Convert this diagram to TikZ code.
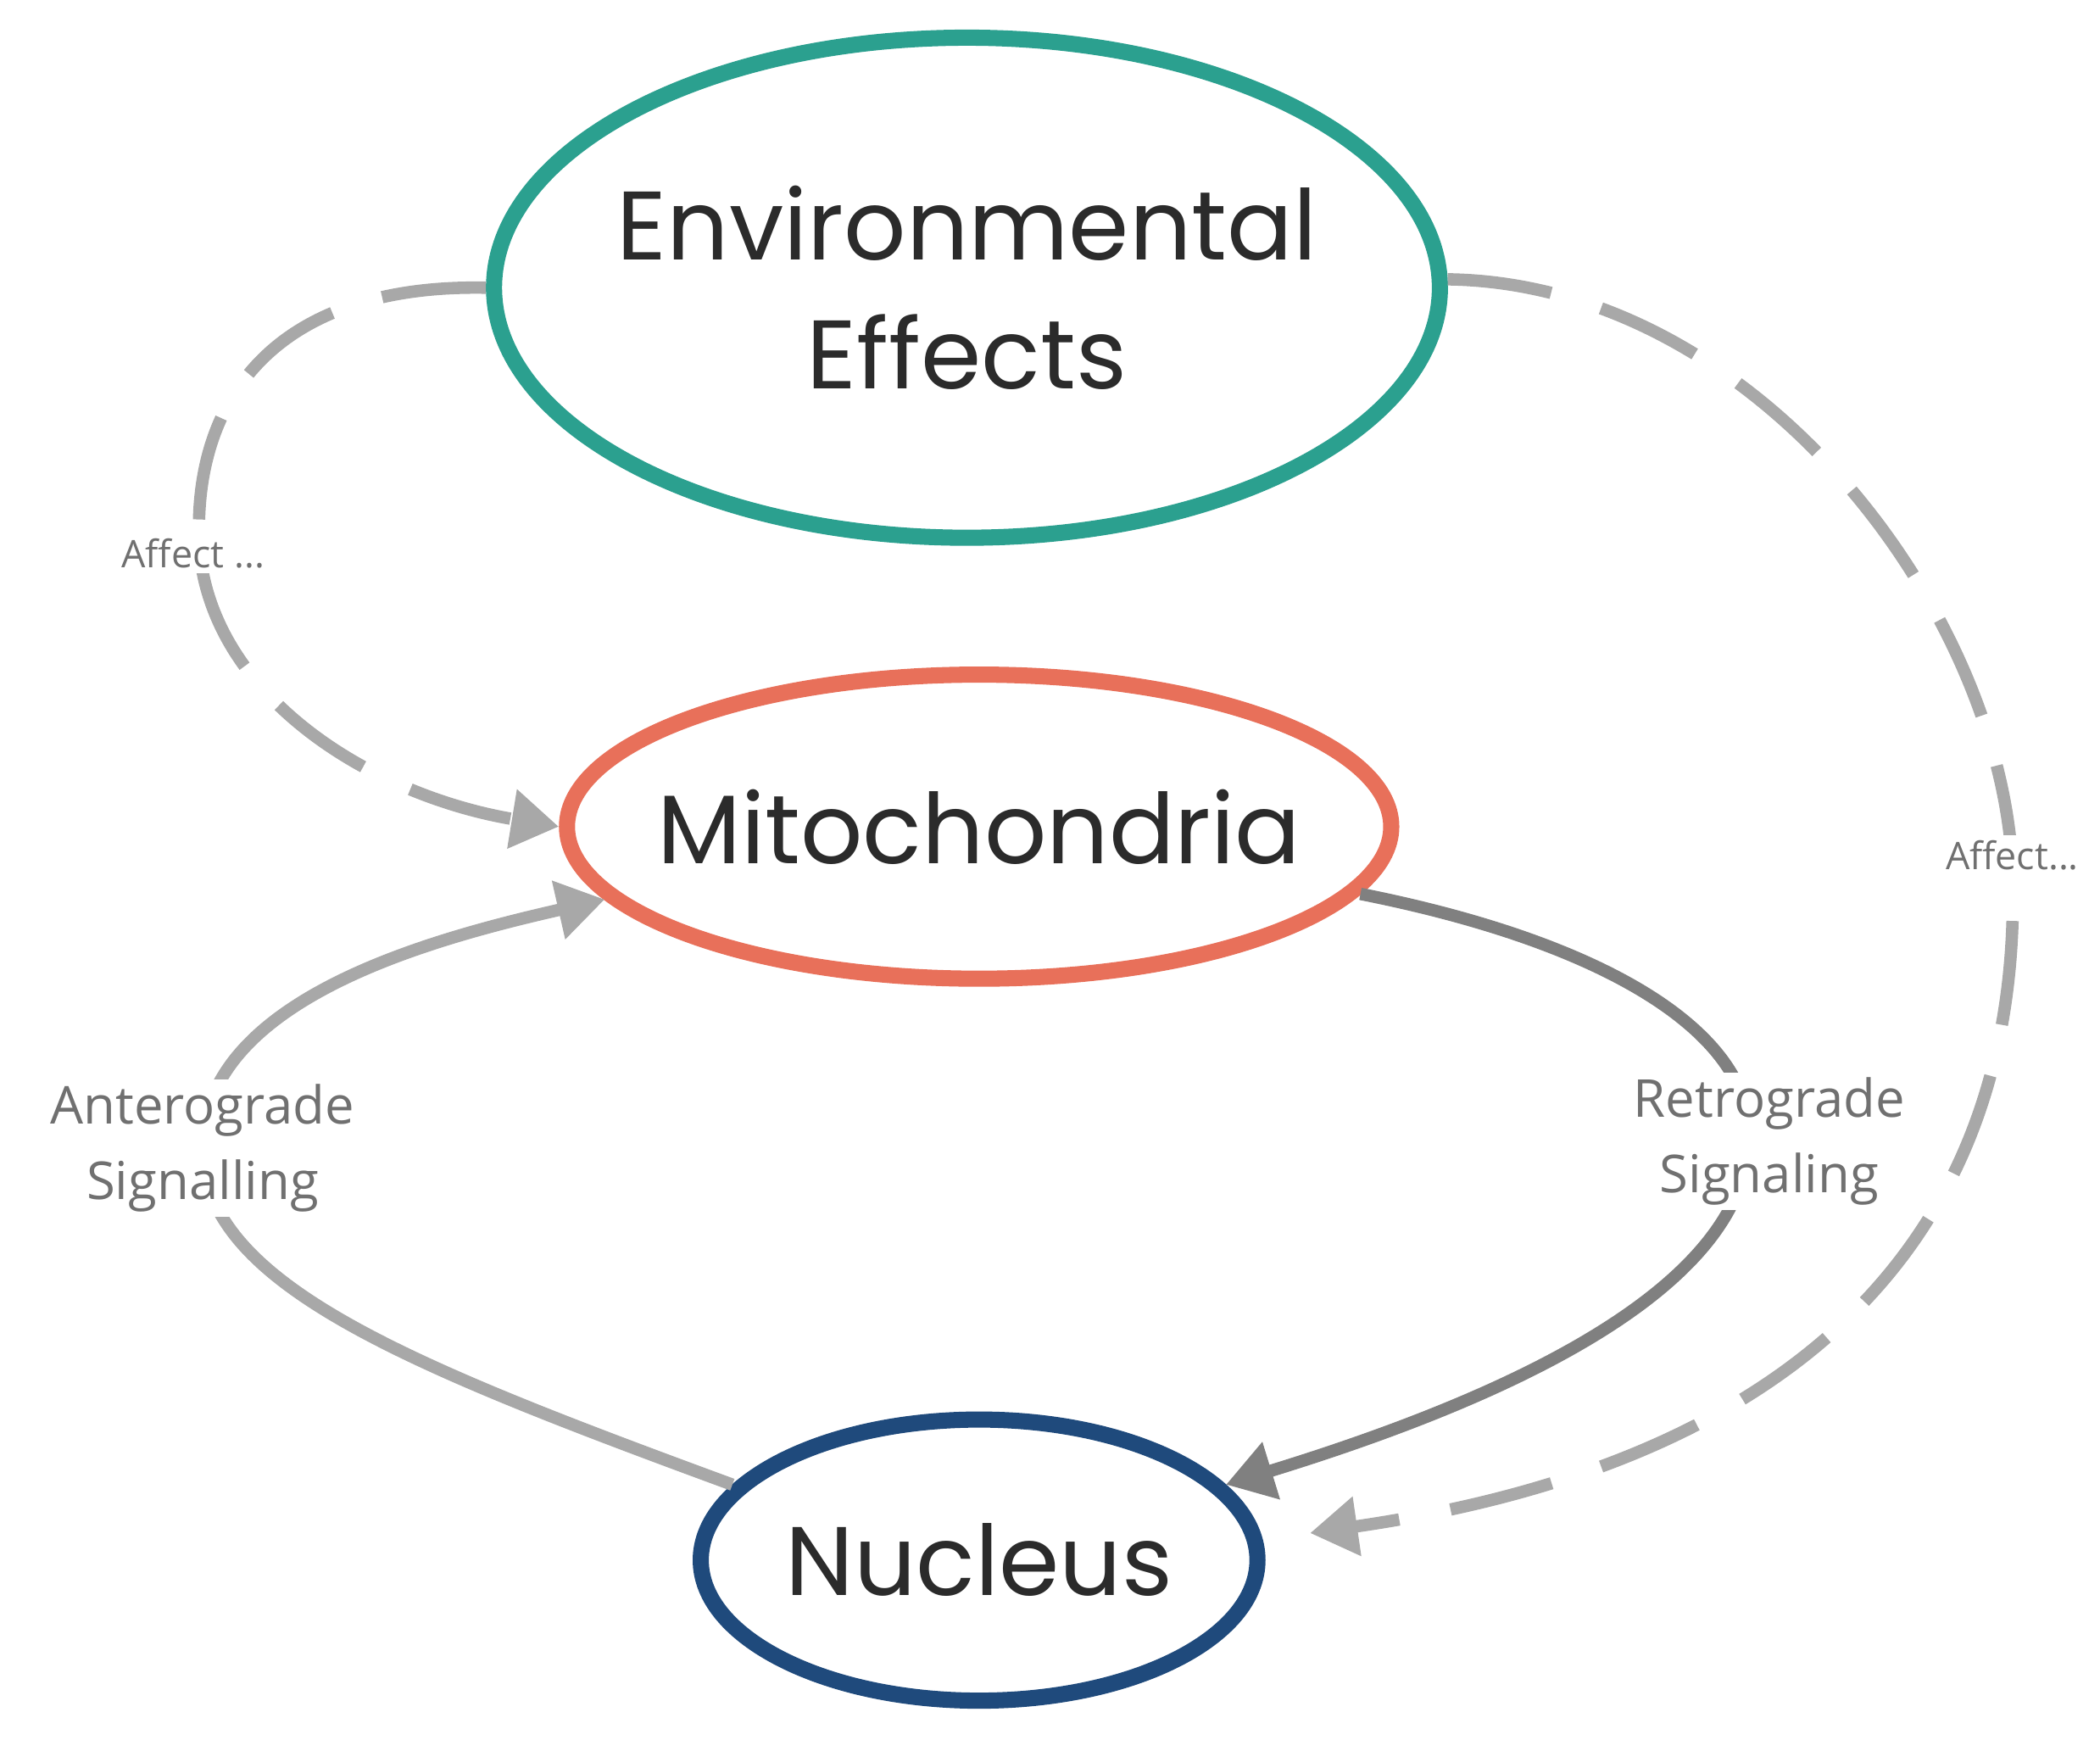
\documentclass[tikz,border=0pt]{standalone}
\usepackage{fontspec}
\setmainfont{Poppins}
\newfontfamily\lblfont{Open Sans}
\usetikzlibrary{shapes.geometric,arrows.meta}
\definecolor{teal1}{HTML}{2BA08F}
\definecolor{coral}{HTML}{E8705A}
\definecolor{navy}{HTML}{1F4A7C}
\definecolor{lgray}{HTML}{A8A8A8}
\definecolor{dgray}{HTML}{808080}
\definecolor{txt}{HTML}{2B2B2B}
\definecolor{ltxt}{HTML}{707070}
\tikzset{
  oval/.style={ellipse,draw,line width=3.4pt,inner xsep=-2cm,inner ysep=-1cm,text=txt,font=\fontsize{20.5}{27}\selectfont,align=center},
  conn/.style={line width=2.6pt,-{Triangle[length=10pt,width=12pt]}},
  lbl/.style={fill=white,text=ltxt,font=\lblfont\fontsize{11}{16}\selectfont,align=center,inner sep=1pt},
  slbl/.style={fill=white,text=ltxt,font=\lblfont\fontsize{8}{10}\selectfont,inner sep=1pt}
}
\begin{document}
\begin{tikzpicture}[x=0.01cm,y=-0.01cm]
\useasboundingbox (0,0) rectangle (1555,1288);
\node[oval,draw=teal1,minimum width=7.0cm,minimum height=3.7cm] (env) at (716,213) {Environmental\\Effects};
\node[oval,draw=coral,minimum width=6.1cm,minimum height=2.25cm] (mito) at (725,612) {Mitochondria};
\node[oval,draw=navy,minimum width=4.12cm,minimum height=2.08cm] (nuc) at (725,1155) {Nucleus};
\coordinate (rtip) at (970,1135);
% left dashed
\draw[conn,lgray,dash pattern=on 22pt off 11pt] (env.180) .. controls (200,210) and (140,300) .. (148,410) .. controls (160,520) and (280,590) .. (mito.180);
% right dashed
\draw[conn,lgray,dash pattern=on 22pt off 11pt] (env.1) .. controls (1300,210) and (1480,450) .. (1490,640) .. controls (1500,900) and (1350,1080) .. (rtip);
% retrograde
\draw[conn,dgray] (mito.-10) .. controls (1200,700) and (1300,770) .. (1295,845) .. controls (1290,960) and (1100,1040) .. (nuc.17);
% anterograde
\draw[conn,lgray] (nuc.163) .. controls (300,1010) and (150,950) .. (150,850) .. controls (150,740) and (320,695) .. (mito.191);
\node[slbl] (l1) at (143,410) {Affect ...};
\node[slbl] (l2) at (1490,633) {Affect...};
\node[lbl] (l3) at (1310,845) {Retrograde\\Signaling};
\node[lbl] (l4) at (150,850) {Anterograde\\Signalling};
\end{tikzpicture}
\end{document}
